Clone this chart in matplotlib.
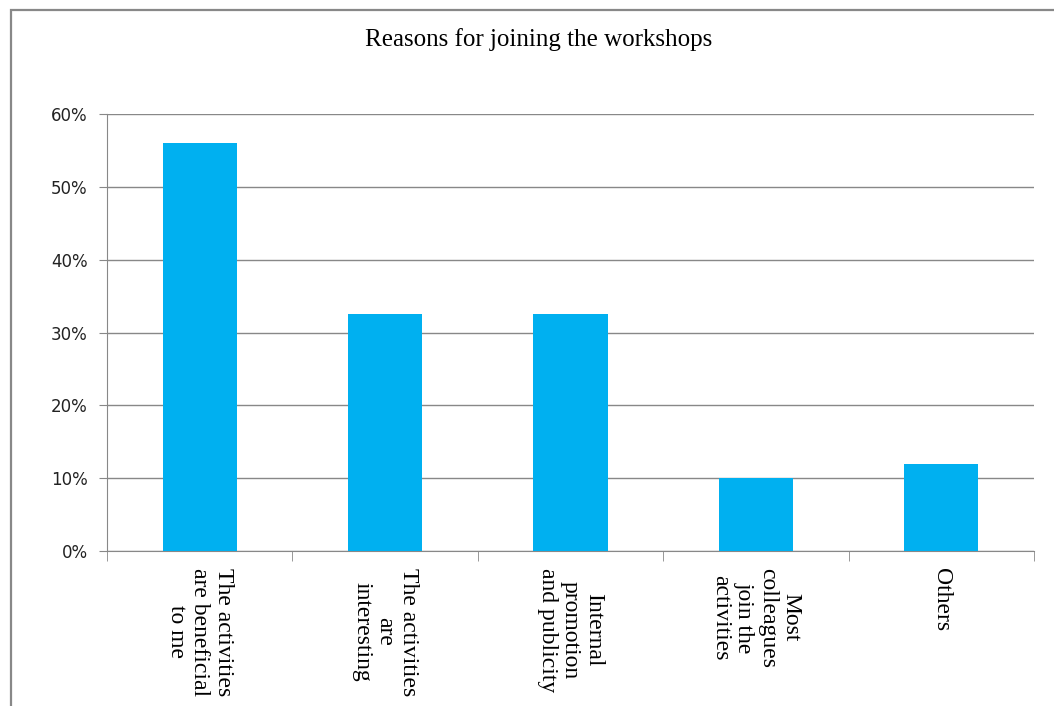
import numpy as np
import matplotlib.pyplot as plt
from matplotlib.patches import Rectangle
from matplotlib.ticker import PercentFormatter, FixedLocator

categories = [
    "The activities\nare beneficial\nto me",
    "The activities\nare\ninteresting",
    "Internal\npromotion\nand publicity",
    "Most\ncolleagues\njoin the\nactivities",
    "Others",
]
shares = [56, 32.5, 32.5, 10, 12]
y_ticks = [0, 10, 20, 30, 40, 50, 60]

BAR_COLOR = "#00B0F0"
GRID_COLOR = "#888888"

W, H = 1054, 706
fig = plt.figure(figsize=(W / 100, H / 100), dpi=100)

# outer chart border (only left/top visible in the reference crop)
fig.patches.append(Rectangle((11 / W, -0.1), 1.2, (H - 10) / H + 0.1,
                             transform=fig.transFigure, fill=False,
                             edgecolor="#888888", linewidth=1.6))

ax = fig.add_axes([107 / W, (H - 551) / H, 927 / W, 437 / H])

x = np.arange(len(categories))
ax.bar(x, shares, width=0.4, color=BAR_COLOR, zorder=3)

ax.set_xlim(-0.5, len(categories) - 0.5)
ax.set_ylim(0, 60)
ax.set_yticks(y_ticks)
ax.yaxis.set_major_formatter(PercentFormatter(decimals=0))
ax.grid(axis="y", color=GRID_COLOR, linewidth=1, zorder=0)

ax.set_xticks(x)
ax.set_xticklabels(categories, rotation=270, family="Liberation Serif",
                   fontsize=17, ha="center", va="top", multialignment="center",
                   linespacing=1.15)
ax.xaxis.set_minor_locator(FixedLocator(np.arange(-0.5, len(categories), 1.0)))
ax.tick_params(axis="x", which="major", length=0, pad=12)
ax.tick_params(axis="x", which="minor", length=7, color=GRID_COLOR)
ax.tick_params(axis="y", length=6, color=GRID_COLOR, labelsize=12,
               labelcolor="#222222", pad=8)

for side in ("top", "right"):
    ax.spines[side].set_visible(False)
for side in ("left", "bottom"):
    ax.spines[side].set_color(GRID_COLOR)

fig.text(539 / W, 1 - 40 / H, "Reasons for joining the workshops",
         family="Liberation Serif", fontsize=18, ha="center", va="center")

fig.savefig("out.png", dpi=100)
